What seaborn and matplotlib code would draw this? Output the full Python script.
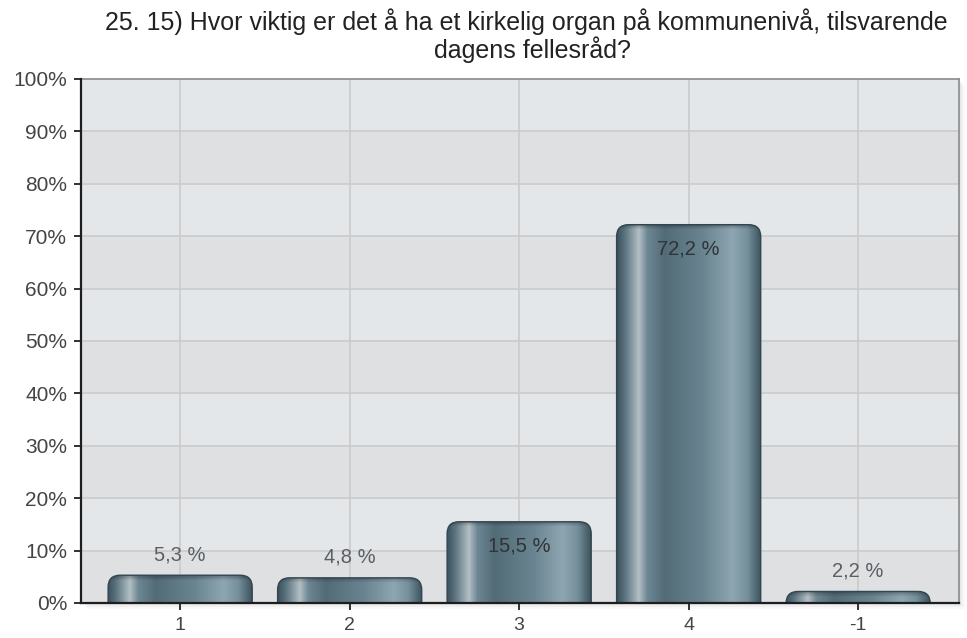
import numpy as np
import pandas as pd
import seaborn as sns
import matplotlib
matplotlib.use("Agg")
import matplotlib.pyplot as plt
from matplotlib.patches import FancyBboxPatch, Rectangle
from matplotlib.colors import to_rgb

# ---- data ----
categories = ["1", "2", "3", "4", "-1"]
values = [5.3, 4.8, 15.5, 72.2, 2.2]
value_labels = ["5,3 %", "4,8 %", "15,5 %", "72,2 %", "2,2 %"]
y_ticks = [0, 10, 20, 30, 40, 50, 60, 70, 80, 90, 100]
y_tick_labels = ["0%", "10%", "20%", "30%", "40%", "50%", "60%", "70%", "80%", "90%", "100%"]
title_line1 = "25. 15) Hvor viktig er det å ha et kirkelig organ på kommunenivå, tilsvarende"
title_line2 = "dagens fellesråd?"

sns.set_theme(style="white")
plt.rcParams['font.family'] = ['Liberation Sans', 'DejaVu Sans']

W, H = 967, 638
fig = plt.figure(figsize=(W / 100, H / 100), dpi=100)
fig.patch.set_facecolor("white")
L, R, T, B = 81, 959, 79, 603

# faint shadow behind the plot area
for k, a in zip([6, 4, 2], [0.025, 0.035, 0.045]):
    fig.add_artist(Rectangle(((L + k) / W, 1 - (B + k) / H), (R - L) / W, (B - T) / H,
                             transform=fig.transFigure, facecolor="black", alpha=a,
                             lw=0, zorder=0))

ax = fig.add_axes([L / W, 1 - B / H, (R - L) / W, (B - T) / H])

df = pd.DataFrame({"cat": categories, "val": values})
sns.barplot(data=df, x="cat", y="val", order=categories, width=0.85,
            color="#5a7380", ax=ax, zorder=3)

xlim = (-0.585, 4.595)
ax.set_xlim(*xlim)
ax.set_ylim(0, 100)

# background bands
for i in range(10):
    c = "#dfe0e2" if i % 2 == 0 else "#e4e7ea"
    ax.axhspan(i * 10, (i + 1) * 10, color=c, zorder=0, lw=0)
for yv in y_ticks[1:-1]:
    ax.axhline(yv, color="#cbcbcb", lw=1.2, zorder=1)
for xv in range(len(categories)):
    ax.axvline(xv, color="#cbcbcb", lw=1.2, zorder=1)

# gradient bars
px_per_x = (R - L) / (xlim[1] - xlim[0])
px_per_y = (B - T) / 100.0
r_px = 12.0
r_x = r_px / px_per_x
r_y = r_px / px_per_y

stops = [(0.0, "#3c525d"), (0.06, "#5f7884"), (0.15, "#b3bfc4"), (0.21, "#6d8693"),
         (0.33, "#526b77"), (0.6, "#6a8591"), (0.8, "#8ea6b1"), (0.9, "#75909c"),
         (1.0, "#3a4f59")]
xs = np.linspace(0, 1, 300)
cols = np.array([to_rgb(c) for _, c in stops])
pos = np.array([p for p, _ in stops])
row = np.stack([np.interp(xs, pos, cols[:, k]) for k in range(3)], axis=1)

patches = list(ax.patches)
for p, v in zip(patches, values):
    x0 = p.get_x()
    w = p.get_width()
    h = p.get_height()
    p.set_visible(False)
    box = FancyBboxPatch((x0, -r_y), w, h + r_y,
                         boxstyle=f"round,pad=0,rounding_size={r_x}",
                         mutation_aspect=r_y / r_x,
                         facecolor="none", edgecolor="#33454e", lw=1.0, zorder=4)
    ax.add_patch(box)
    hp = max(int(h * px_per_y), 2)
    img = np.repeat(row[None, :, :], hp, axis=0)
    rim = min(5, hp)
    shade = np.ones(hp)
    shade[:rim] = np.linspace(0.72, 0.95, rim)
    img = img * shade[:, None, None]
    im = ax.imshow(img, extent=[x0, x0 + w, 0, h], aspect="auto",
                   origin="upper", zorder=3, interpolation="bilinear")
    im.set_clip_path(box)

ax.set_xlim(*xlim)
ax.set_ylim(0, 100)
ax.set_aspect("auto")

# value labels
for i, (v, lab) in enumerate(zip(values, value_labels)):
    if v > 10:
        ax.text(i, v - 4.7, lab, ha="center", va="center", fontsize=14.5,
                color="#2e3438", zorder=6)
    else:
        ax.text(i, v + 3.9, lab, ha="center", va="center", fontsize=14.5,
                color="#5a5f63", zorder=6)

# axes styling
ax.set_yticks(y_ticks)
ax.set_yticklabels(y_tick_labels)
ax.set_xticks(range(len(categories)))
ax.set_xticklabels(categories)
ax.set_xlabel("")
ax.set_ylabel("")
ax.tick_params(axis="both", which="both", direction="out", length=5, width=1.3,
               color="#222222", labelsize=15, labelcolor="#444444",
               left=True, bottom=True)
ax.tick_params(axis="y", pad=5)
ax.tick_params(axis="x", pad=5, labelsize=14)
for s in ["left", "bottom"]:
    ax.spines[s].set_color("#1e1e1e")
    ax.spines[s].set_linewidth(1.6)
    ax.spines[s].set_zorder(7)
for s in ["top", "right"]:
    ax.spines[s].set_color("#8a8a8a")
    ax.spines[s].set_linewidth(1.2)
    ax.spines[s].set_visible(True)

# title
fig.text(526 / W, 1 - 22 / H, title_line1, ha="center", va="center",
         fontsize=18, color="#222222")
fig.text(532 / W, 1 - 50 / H, title_line2, ha="center", va="center",
         fontsize=18, color="#222222")

fig.savefig("out.png", dpi=100)
